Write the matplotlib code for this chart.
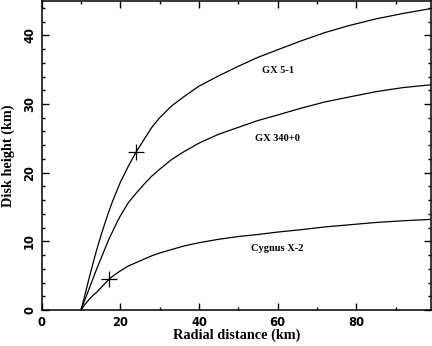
import numpy as np
import matplotlib
matplotlib.use('Agg')
import matplotlib.pyplot as plt
from matplotlib.ticker import MultipleLocator

# radial distance grid (km)
radius = [10, 11, 12, 13, 14, 15, 16, 17, 18, 19, 20, 22, 24, 26, 28, 30, 33, 36, 40,
          45, 50, 55, 60, 66, 72, 78, 85, 92, 99]

# disk height (km) for each source
h_gx51 = [0, 2.2, 4.5, 6.7, 8.8, 10.7, 12.5, 14.2, 15.8, 17.2, 18.6, 20.9, 23.0, 24.8, 26.6,
          28.0, 29.7, 31.0, 32.6, 34.1, 35.5, 36.8, 37.9, 39.2, 40.4, 41.4, 42.4, 43.2, 43.9]
h_gx340 = [0, 1.5, 3.0, 4.5, 6.0, 7.4, 8.8, 10.2, 11.4, 12.6, 13.7, 15.6, 17.0, 18.3, 19.5,
           20.5, 21.9, 23.0, 24.3, 25.6, 26.6, 27.6, 28.4, 29.4, 30.3, 31.0, 31.8, 32.4, 32.8]
h_cyg = [0, 0.8, 1.5, 2.1, 2.6, 3.2, 3.8, 4.4, 4.9, 5.3, 5.7, 6.4, 6.9, 7.4, 7.9,
         8.3, 8.8, 9.3, 9.8, 10.3, 10.7, 11.0, 11.35, 11.7, 12.1, 12.4, 12.75, 13.0, 13.2]

# marked points
mark_r = [24.0, 17.1]
mark_h = [23.0, 4.5]

labels = ['GX 5-1', 'GX 340+0', 'Cygnus X-2']
label_r = [60, 60, 60]
label_h = [34.9, 25.0, 8.9]

fig = plt.figure(figsize=(4.32, 3.46), dpi=100)
ax = fig.add_axes([0.0965, 0.104, 0.901, 0.893])

for h in [h_gx51, h_gx340, h_cyg]:
    ax.plot(radius, h, color='black', lw=0.9)
ax.plot(mark_r, mark_h, ls='none', marker='+', ms=11.5, mew=0.9, color='black')

for t, x, y in zip(labels, label_r, label_h):
    ax.text(x, y, t, ha='center', va='center', fontsize=7.5, fontweight='bold',
            family='Liberation Serif')

ax.set_xlim(0, 99)
ax.set_ylim(0, 45)
ax.xaxis.set_major_locator(MultipleLocator(20))
ax.xaxis.set_minor_locator(MultipleLocator(10))
ax.yaxis.set_major_locator(MultipleLocator(10))
ax.yaxis.set_minor_locator(MultipleLocator(2))
ax.tick_params(which='both', direction='in', top=True, right=True, width=1.0)
ax.tick_params(which='major', length=5)
ax.tick_params(which='minor', length=2.5)
ax.tick_params(axis='both', labelsize=8.3)
ax.tick_params(axis='x', pad=4.5)
ax.tick_params(axis='y', pad=4)
for lb in ax.get_xticklabels() + ax.get_yticklabels():
    lb.set_fontweight('bold')
for lb in ax.get_yticklabels():
    lb.set_rotation(90)
    lb.set_va('center')
for s in ax.spines.values():
    s.set_linewidth(1.1)

ax.set_xlabel('Radial distance (km)', fontsize=10.3, fontweight='bold',
              family='Liberation Serif', ha='center', va='center')
ax.set_ylabel('Disk height (km)', fontsize=10.3, fontweight='bold',
              family='Liberation Serif', ha='center', va='center')
ax.xaxis.set_label_coords(0.5, -0.081)
ax.yaxis.set_label_coords(-0.087, 0.5)

fig.savefig('out.png', dpi=100)
